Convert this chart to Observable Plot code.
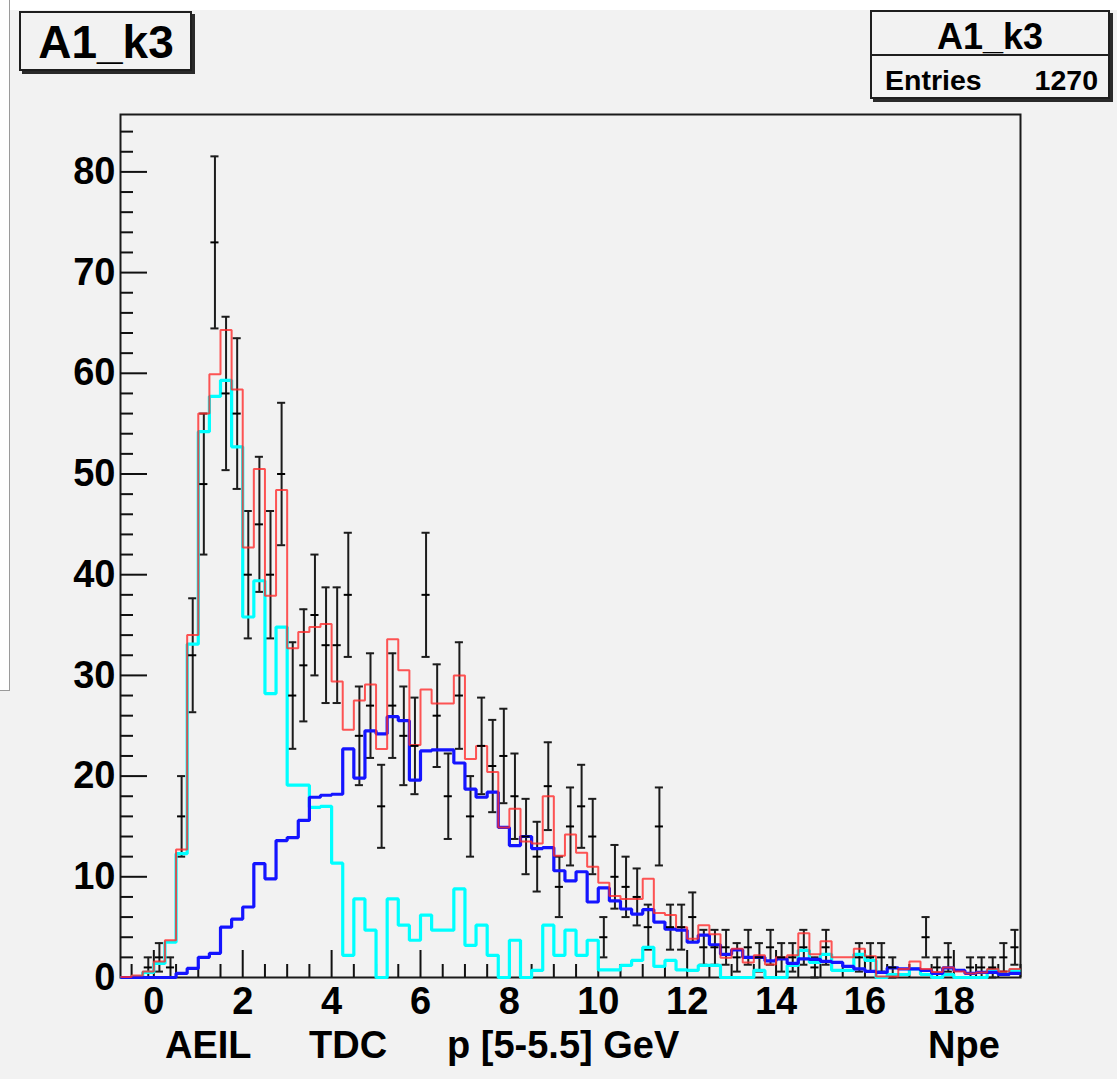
<!DOCTYPE html>
<html><head><meta charset="utf-8">
<script src="https://cdn.jsdelivr.net/npm/d3@7"></script>
<script src="https://cdn.jsdelivr.net/npm/@observablehq/plot@0.6"></script>
<style>
html,body{margin:0;padding:0;background:#f2f2f2;}
#canvas{position:relative;width:1117px;height:1079px;overflow:hidden;background:#f2f2f2;font-family:"Liberation Sans",Arial,Helvetica,sans-serif;font-weight:bold;color:#000;}
#chart{position:absolute;left:0;top:0;}
.abs{position:absolute;white-space:pre;}
.box{position:absolute;box-sizing:border-box;border:2px solid #1e1e1e;background:#f2f2f2;box-shadow:3px 3px 0 #2a2a2a;}
</style></head><body>
<div id="canvas">
  <div class="abs" style="left:0;top:0;width:1117px;height:10px;background:#fff;"></div>
  <div class="abs" style="left:0;top:0;width:9px;height:690px;background:#fff;border-right:1px solid #9a9a9a;border-bottom:1px solid #9a9a9a;"></div>
  <div id="chart"></div>
  <div class="box" style="left:19px;top:11px;width:173px;height:60px;"></div>
  <div class="abs" style="left:19px;top:19.4px;width:174px;text-align:center;font-size:46px;line-height:46px;">A1_k3</div>
  <div class="box" style="left:870px;top:10px;width:240px;height:89px;"></div>
  <div class="abs" style="left:870px;top:54px;width:240px;height:0;border-top:2px solid #1e1e1e;"></div>
  <div class="abs" style="left:870px;top:18.8px;width:240px;text-align:center;font-size:36px;line-height:36px;">A1_k3</div>
  <div class="abs" style="left:885px;top:65.9px;font-size:28.5px;line-height:28.5px;">Entries</div>
  <div class="abs" style="left:990px;top:65.9px;width:108px;text-align:right;font-size:28.5px;line-height:28.5px;">1270</div>
  <div class="abs" style="left:165px;top:1025.8px;font-size:38px;line-height:38px;">AEIL</div>
  <div class="abs" style="left:309px;top:1025.8px;font-size:38px;line-height:38px;">TDC</div>
  <div class="abs" style="left:447px;top:1025.8px;font-size:38px;line-height:38px;">p [5-5.5] GeV</div>
  <div class="abs" style="left:928px;top:1025.8px;font-size:38px;line-height:38px;">Npe</div>
</div>
<script>
// Histogram binning (81 bins of width 0.25 from -0.75 to 19.5)
const binLow = -0.75;
const binWidth = 0.25;

// Data counts per bin (black points with error bars)
const dataCounts = [0, 0, 1, 2, 1, 16, 32, 49, 73, 58,
  56, 40, 45, 40, 50, 28, 31, 36, 33, 33,
  38, 24, 27, 17, 27, 24, 23, 38, 26, 18,
  28, 16, 23, 21, 22, 18, 14, 12, 19, 9,
  15, 17, 14, 4, 10, 9, 8, 5, 15, 5,
  5, 6, 3, 3, 3, 2, 3, 2, 3, 2,
  2, 3, 1, 3, 0, 0, 2, 2, 2, 1,
  0, 0, 4, 1, 2, 0, 1, 1, 1, 2, 3];

// Total fit (red)
const totalFit = [0.05, 0.2, 0.6, 1.6, 3.7, 12.7, 34.0, 56.0, 59.9, 64.3,
  58.4, 42.7, 50.5, 37.9, 48.4, 32.7, 34.3, 34.8, 35.1, 29.4,
  24.6, 27.5, 29.1, 22.7, 33.6, 30.5, 23.1, 28.6, 27.2, 27.2,
  30.0, 21.7, 23.0, 20.4, 14.9, 16.75, 13.5, 13.3, 18.0, 12.1,
  14.2, 12.4, 11.0, 9.4, 8.1, 7.8, 7.8, 9.8, 6.4, 6.2,
  5.0, 3.85, 5.2, 4.3, 1.95, 2.85, 1.5, 2.2, 1.3, 2.0,
  2.2, 4.4, 2.3, 3.6, 2.0, 2.0, 2.85, 2.1, 0.1, 0.1,
  0.85, 1.6, 0.85, 0.55, 1.0, 0.6, 0.4, 0.5, 0.85, 0.6, 0.85];

// Component (blue)
const blueComp = [0, 0, 0, 0, 0, 0.4, 0.9, 2.0, 2.4, 5.0,
  5.8, 7.0, 11.3, 9.8, 13.6, 13.9, 15.6, 17.9, 18.1, 18.2,
  22.7, 19.8, 24.5, 24.2, 25.9, 25.5, 19.6, 22.5, 22.6, 22.6,
  21.3, 18.7, 17.9, 18.4, 14.9, 13.1, 14.0, 12.8, 12.9, 10.6,
  9.6, 10.5, 7.5, 8.9, 7.6, 6.8, 6.3, 6.75, 5.5, 4.8,
  4.7, 3.5, 4.2, 3.25, 2.3, 2.75, 2.0, 2.0, 1.65, 1.85,
  1.4, 1.85, 1.8, 1.6, 1.5, 1.1, 0.85, 0.6, 0.5, 0.95,
  0.85, 0.85, 0.7, 0.4, 0.95, 0.7, 0.4, 0.5, 0.5, 0.3, 0.4];

// Component (cyan)
const cyanComp = [0, 0.1, 0.5, 1.4, 3.5, 12.3, 33.1, 54.2, 57.7, 59.3,
  52.7, 35.8, 39.4, 28.2, 34.8, 19.1, 19.1, 16.9, 17.0, 11.35,
  2.2, 7.8, 4.7, 0, 7.8, 5.2, 3.7, 6.2, 4.7, 4.7,
  8.8, 3.2, 5.2, 2.2, 0, 3.7, 0, 0.7, 5.2, 2.2,
  4.7, 2.2, 3.7, 0.75, 0.75, 1.2, 1.7, 3.0, 1.1, 1.7,
  0.75, 0.7, 1.2, 1.2, 0, 0, 0, 0.7, 0, 0,
  1.2, 2.7, 1.5, 2.3, 0.7, 0.7, 2.3, 1.7, 0, 0.3,
  0.3, 0.85, 0.3, 0, 0.3, 0, 0, 0, 0.7, 0.3, 0.7];

const xMajorTicks = [0, 2, 4, 6, 8, 10, 12, 14, 16, 18];
const yMajorTicks = [0, 10, 20, 30, 40, 50, 60, 70, 80];
const xMinorTicks = d3.range(-0.5, 19.5001, 0.5).filter(t => !xMajorTicks.includes(t));
const yMinorTicks = d3.range(2, 85, 2).filter(t => !yMajorTicks.includes(t));

const edge = k => binLow + k * binWidth;
function stepPoints(vals) {
  const pts = vals.map((v, k) => ({x: edge(k), y: v}));
  pts.push({x: edge(vals.length), y: vals[vals.length - 1]});
  return pts;
}
const points = dataCounts
  .map((n, k) => ({lo: edge(k), hi: edge(k + 1), c: edge(k) + binWidth / 2, v: n, e: Math.sqrt(n)}))
  .filter(d => d.v > 0);

const W = 1117, H = 1079, mL = 120, mR = 97, mT = 114, mB = 102;
const FW = W - mL - mR, FH = H - mT - mB;
const majorLen = 27, minorLen = 13;
const font = "Liberation Sans, Arial, Helvetica, sans-serif";
const lineStyle = {strokeLinejoin: "miter", strokeLinecap: "butt", curve: "step-after"};
const barColor = "#1c1c1c";

const chart = Plot.plot({
  width: W, height: H,
  marginLeft: mL, marginRight: mR, marginTop: mT, marginBottom: mB,
  style: {background: "transparent", fontFamily: font, fontWeight: "bold", color: "#000"},
  x: {domain: [binLow, edge(dataCounts.length)]},
  y: {domain: [0, 85.7]},
  marks: [
    Plot.frame({stroke: "#1a1a1a", strokeWidth: 2}),
    Plot.tickX(xMajorTicks, {x: d => d, stroke: "#111", strokeWidth: 2, insetTop: FH - majorLen}),
    Plot.tickX(xMinorTicks, {x: d => d, stroke: "#111", strokeWidth: 2, insetTop: FH - minorLen}),
    Plot.tickY(yMajorTicks, {y: d => d, stroke: "#111", strokeWidth: 2, insetRight: FW - majorLen}),
    Plot.tickY(yMinorTicks, {y: d => d, stroke: "#111", strokeWidth: 2, insetRight: FW - minorLen}),
    Plot.axisX({ticks: xMajorTicks, tickSize: 0, tickPadding: 10, fontSize: 38, fontWeight: "bold", fontFamily: font, label: null}),
    Plot.axisY({ticks: yMajorTicks, tickSize: 0, tickPadding: 5, fontSize: 38, fontWeight: "bold", fontFamily: font, label: null}),
    // error bars
    Plot.ruleX(points, {x: "c", y1: d => d.v - d.e, y2: d => d.v + d.e, stroke: barColor, strokeWidth: 2}),
    Plot.ruleY(points, {y: d => d.v + d.e, x1: "lo", x2: "hi", insetLeft: 1.5, insetRight: 1.5, stroke: barColor, strokeWidth: 2}),
    Plot.ruleY(points, {y: d => d.v - d.e, x1: "lo", x2: "hi", insetLeft: 1.5, insetRight: 1.5, stroke: barColor, strokeWidth: 2}),
    // histograms
    Plot.line(stepPoints(cyanComp), {x: "x", y: "y", stroke: "#00ffff", strokeWidth: 3.2, ...lineStyle}),
    Plot.line(stepPoints(blueComp), {x: "x", y: "y", stroke: "#1414ff", strokeWidth: 3.2, ...lineStyle}),
    Plot.line(stepPoints(totalFit), {x: "x", y: "y", stroke: "#ff2a2a", strokeOpacity: 0.8, strokeWidth: 2, ...lineStyle}),
    // markers
    Plot.ruleY(points, {y: "v", x1: "lo", x2: "hi", insetLeft: 1.5, insetRight: 1.5, stroke: "#000", strokeWidth: 2})
  ]
});
document.getElementById("chart").appendChild(chart);
</script>
</body></html>
